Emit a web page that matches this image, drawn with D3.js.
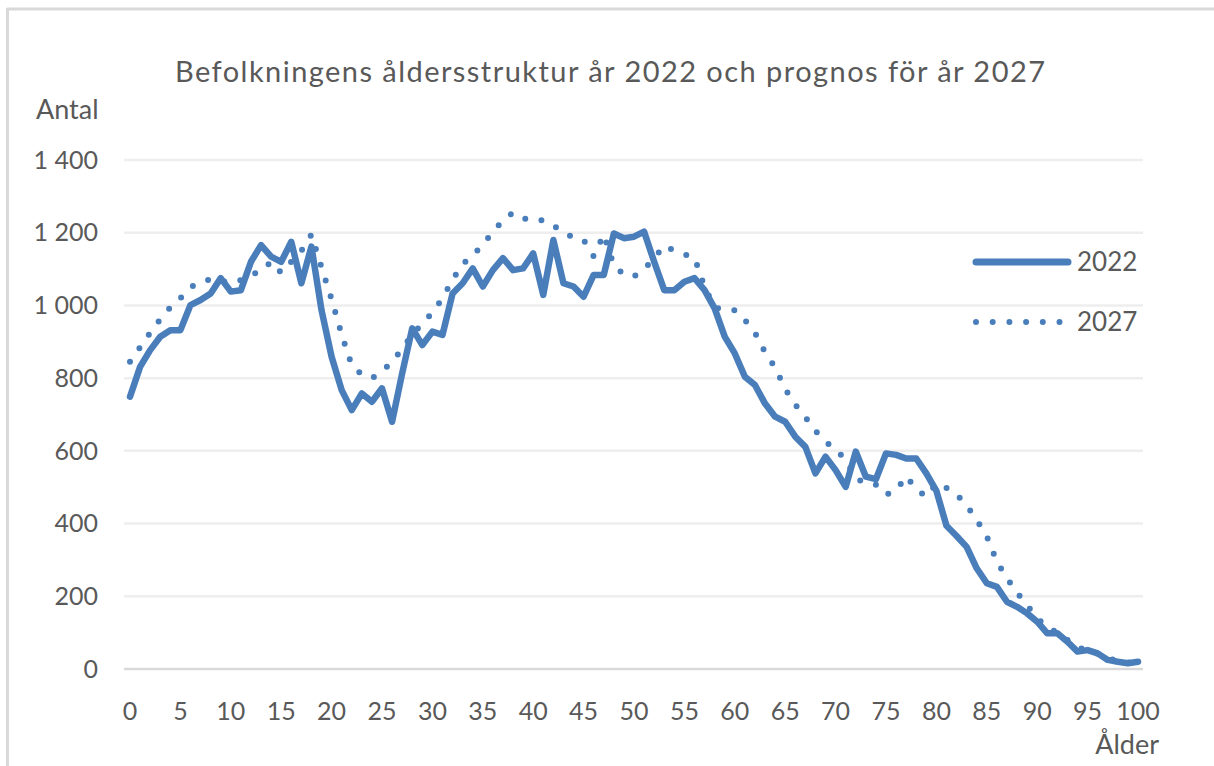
<!DOCTYPE html>
<html>
<head>
<meta charset="utf-8">
<script src="https://cdn.jsdelivr.net/npm/d3@7"></script>
<style>
  body { margin: 0; background: #fff; }
  text { font-family: Lato, "Open Sans", sans-serif; fill: #595959; }
</style>
</head>
<body>
<div id="chart"></div>
<script>
// age groups 0..100
const ages = d3.range(0, 101);

// population 2022
const pop2022 = [
  749, 831, 877, 914, 932, 932, 1001, 1015, 1033, 1075,
  1038, 1042, 1120, 1166, 1134, 1120, 1175, 1061, 1162, 987,
  859, 767, 712, 758, 735, 772, 680, 813, 937, 891,
  928, 919, 1033, 1061, 1102, 1052, 1097, 1130, 1097, 1102,
  1143, 1029, 1180, 1061, 1052, 1024, 1084, 1084, 1198, 1185,
  1189, 1203, 1120, 1042, 1042, 1065, 1075, 1042, 992, 914,
  868, 804, 781, 730, 694, 680, 639, 611, 538, 584,
  547, 501, 598, 529, 522, 593, 589, 579, 579, 538,
  490, 394, 366, 336, 277, 236, 226, 185, 171, 153,
  130, 98, 98, 75, 48, 52, 43, 25, 20, 16,
  20
];

// forecast 2027
const pop2027 = [
  845, 885, 925, 962, 995, 1020, 1050, 1065, 1072, 1068,
  1062, 1070, 1085, 1093, 1120, 1090, 1120, 1150, 1195, 1105,
  1017, 920, 835, 810, 800, 818, 845, 880, 920, 950,
  980, 1020, 1070, 1115, 1135, 1170, 1200, 1235, 1255, 1240,
  1232, 1235, 1220, 1200, 1187, 1180, 1135, 1195, 1110, 1085,
  1080, 1100, 1130, 1165, 1150, 1140, 1132, 1050, 995, 987,
  987, 960, 925, 871, 829, 770, 727, 693, 655, 625,
  605, 575, 525, 510, 507, 480, 490, 530, 495, 474,
  510, 498, 480, 450, 410, 365, 295, 250, 210, 175,
  140, 115, 100, 80, 60, 50, 42, 30, 22, 18,
  16
];

const yTicks = [0, 200, 400, 600, 800, 1000, 1200, 1400];
const xTicks = d3.range(0, 101, 5);

const W = 1214, H = 766;
const color = "#4a7ebb";

const svg = d3.select("#chart").append("svg")
  .attr("width", W).attr("height", H);

svg.append("rect").attr("width", W).attr("height", H).attr("fill", "#fff");

// outer frame (top and left edges only visible)
svg.append("line").attr("x1", 7).attr("x2", W).attr("y1", 9).attr("y2", 9)
  .attr("stroke", "#d9d9d9").attr("stroke-width", 3);
svg.append("line").attr("x1", 7.5).attr("x2", 7.5).attr("y1", 8).attr("y2", H)
  .attr("stroke", "#d9d9d9").attr("stroke-width", 3);

const x = d3.scaleLinear().domain([0, 100]).range([130, 1138]);
const y = d3.scaleLinear().domain([0, 1400]).range([669, 160]);

// gridlines
svg.append("g")
  .selectAll("line")
  .data(yTicks)
  .join("line")
  .attr("x1", 124).attr("x2", 1143)
  .attr("y1", d => y(d)).attr("y2", d => y(d))
  .attr("stroke", d => d === 0 ? "#d9d9d9" : "#eeeeee")
  .attr("stroke-width", 2.5);

// y tick labels
const fmt = d => d3.format(",")(d).replace(",", "\u00a0");
svg.append("g")
  .selectAll("text")
  .data(yTicks)
  .join("text")
  .attr("x", 98).attr("y", d => y(d))
  .attr("dy", "0.35em")
  .attr("text-anchor", "end")
  .attr("font-size", 25)
  .text(fmt);

// x tick labels
svg.append("g")
  .selectAll("text")
  .data(xTicks)
  .join("text")
  .attr("x", d => x(d)).attr("y", 711)
  .attr("dy", "0.35em")
  .attr("text-anchor", "middle")
  .attr("font-size", 25)
  .text(d => d);

// titles
svg.append("text").attr("x", 175).attr("y", 72).attr("dy", "0.35em")
  .attr("font-size", 29)
  .attr("textLength", 870).attr("lengthAdjust", "spacing")
  .text("Befolkningens åldersstruktur år 2022 och prognos för år 2027");
svg.append("text").attr("x", 36).attr("y", 110).attr("dy", "0.35em")
  .attr("font-size", 27).text("Antal");
svg.append("text").attr("x", 1159).attr("y", 745).attr("dy", "0.35em")
  .attr("text-anchor", "end").attr("font-size", 27).text("Ålder");

const line = d3.line()
  .x((d, i) => x(ages[i]))
  .y(d => y(d));

svg.append("path")
  .datum(pop2027)
  .attr("d", line)
  .attr("fill", "none")
  .attr("stroke", color)
  .attr("stroke-width", 6)
  .attr("stroke-linecap", "round")
  .attr("stroke-dasharray", "0 16.5");

svg.append("path")
  .datum(pop2022)
  .attr("d", line)
  .attr("fill", "none")
  .attr("stroke", color)
  .attr("stroke-width", 6.5)
  .attr("stroke-linejoin", "round")
  .attr("stroke-linecap", "round");

// legend
const legend = [
  { name: "2022", y: 262, dash: null },
  { name: "2027", y: 322, dash: "0 16.7" }
];
const lg = svg.append("g");
lg.selectAll("line")
  .data(legend)
  .join("line")
  .attr("x1", 976).attr("x2", 1068)
  .attr("y1", d => d.y).attr("y2", d => d.y)
  .attr("stroke", color)
  .attr("stroke-width", d => d.dash ? 6 : 7)
  .attr("stroke-linecap", "round")
  .attr("stroke-dasharray", d => d.dash);
lg.selectAll("text")
  .data(legend)
  .join("text")
  .attr("x", 1077).attr("y", d => d.y)
  .attr("dy", "0.35em")
  .attr("font-size", 26)
  .text(d => d.name);
</script>
</body>
</html>
